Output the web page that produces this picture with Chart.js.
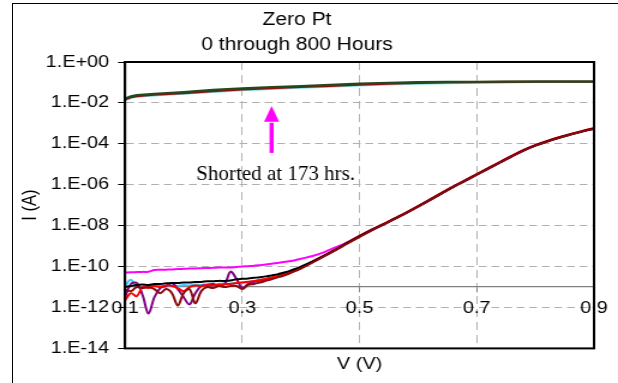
<!DOCTYPE html>
<html>
<head>
<meta charset="utf-8">
<script src="https://cdn.jsdelivr.net/npm/chart.js@4.4.1/dist/chart.umd.min.js"></script>
<style>
html,body{margin:0;padding:0;background:#fff;overflow:hidden;width:618px;height:383px;}
#wrap{position:absolute;left:0;top:0;width:515px;height:383px;transform-origin:0 0;}
#frame{position:absolute;left:12px;top:3px;width:700px;height:500px;border-left:1px solid #000;border-top:1px solid #000;pointer-events:none;}
</style>
</head>
<body>
<div id="wrap"><canvas id="c"></canvas></div>
<div id="frame"></div>
<script>
// ---------- DATA ----------
const titleLines = ['Zero Pt', '0 through 800 Hours'];
const xTitle = 'V (V)';
const yTitle = 'I (A)';
const annotationText = 'Shorted at 173 hrs.';

const xTickValues = [0.1, 0.3, 0.5, 0.7, 0.9];
const xTickLabels = ['0.1', '0.3', '0.5', '0.7', '0.9'];
const yTickValues = [1e-14, 1e-12, 1e-10, 1e-8, 1e-6, 1e-4, 1e-2, 1];
const yTickLabels = ['1.E-14', '1.E-12', '1.E-10', '1.E-08', '1.E-06', '1.E-04', '1.E-02', '1.E+00'];

// voltages for the non-shorted sweeps (V)
const lowVoltage = [
  0.10,0.11,0.12,0.13,0.14,0.15,0.16,0.17,0.18,0.19,0.20,
  0.21,0.22,0.23,0.24,0.25,0.26,0.27,0.28,0.29,0.30,
  0.31,0.32,0.33,0.34,0.35,0.36,0.37,0.38,0.39,0.40,
  0.42,0.44,0.46,0.48,0.50,0.52,0.54,0.56,0.58,0.60,
  0.62,0.64,0.66,0.68,0.70,0.72,0.74,0.76,0.78,0.80,
  0.82,0.84,0.86,0.88,0.90
];
// log10 of current (A) for each sweep
const blackLogI = [
  -11.0,-10.95,-10.9,-10.88,-10.9,-10.85,-10.85,-10.82,-10.8,-10.8,-10.78,
  -10.78,-10.75,-10.75,-10.72,-10.72,-10.7,-10.7,-10.68,-10.62,-10.6,
  -10.58,-10.55,-10.52,-10.48,-10.43,-10.38,-10.3,-10.22,-10.12,-10.0,
  -9.74,-9.46,-9.16,-8.83,-8.52,-8.22,-7.95,-7.66,-7.37,-7.06,
  -6.74,-6.42,-6.1,-5.8,-5.5,-5.2,-4.9,-4.6,-4.32,-4.08,
  -3.88,-3.7,-3.54,-3.39,-3.25
];
const cyanLogI = [
  -10.95,-10.65,-11.0,-10.98,-10.92,-10.95,-10.9,-10.97,-10.92,-10.95,-10.9,
  -10.93,-10.88,-10.9,-10.86,-10.88,-10.85,-10.83,-10.84,-10.8,-10.78,
  -10.76,-10.72,-10.67,-10.61,-10.55,-10.48,-10.4,-10.31,-10.2,-10.07,
  -9.78,-9.48,-9.17,-8.85,-8.54,-8.24,-7.96,-7.67,-7.38,-7.07,
  -6.75,-6.43,-6.11,-5.81,-5.51,-5.21,-4.91,-4.61,-4.33,-4.09,
  -3.89,-3.71,-3.55,-3.4,-3.26
];
const redLogI = [
  -11.65,-11.3,-11.45,-11.0,-11.05,-10.95,-11.0,-10.92,-10.95,-11.05,-11.2,
  -11.0,-10.92,-10.95,-10.9,-10.92,-10.88,-10.86,-10.85,-10.8,-10.78,
  -10.74,-10.7,-10.65,-10.6,-10.53,-10.46,-10.38,-10.29,-10.18,-10.05,
  -9.76,-9.45,-9.15,-8.82,-8.5,-8.2,-7.93,-7.64,-7.35,-7.04,
  -6.72,-6.4,-6.08,-5.78,-5.48,-5.18,-4.88,-4.58,-4.3,-4.06,
  -3.86,-3.68,-3.52,-3.37,-3.23
];
const purpleLogI = [
  -11.5,-10.85,-10.8,-11.4,-12.3,-11.5,-11.05,-10.95,-10.8,-11.1,-11.5,
  -11.85,-11.3,-10.95,-10.9,-10.85,-10.95,-10.85,-10.25,-10.6,-11.05,
  -10.85,-10.75,-10.68,-10.62,-10.56,-10.49,-10.41,-10.31,-10.2,-10.08,
  -9.77,-9.47,-9.17,-8.84,-8.53,-8.23,-7.95,-7.66,-7.37,-7.06,
  -6.74,-6.42,-6.1,-5.8,-5.5,-5.2,-4.9,-4.6,-4.32,-4.08,
  -3.88,-3.7,-3.54,-3.39,-3.25
];
const darkRedLogI = [
  -11.1,-11.2,-11.0,-11.05,-11.0,-11.1,-11.3,-11.1,-11.3,-11.9,-11.3,
  -11.1,-11.8,-11.2,-11.0,-11.05,-10.95,-11.0,-10.95,-10.95,-11.1,
  -10.9,-10.85,-10.78,-10.7,-10.62,-10.53,-10.45,-10.34,-10.22,-10.1,
  -9.8,-9.49,-9.19,-8.86,-8.55,-8.24,-7.96,-7.67,-7.38,-7.07,
  -6.75,-6.43,-6.11,-5.81,-5.51,-5.21,-4.91,-4.61,-4.33,-4.09,
  -3.89,-3.71,-3.55,-3.4,-3.26
];
const magentaLogI = [
  -10.3,-10.28,-10.27,-10.26,-10.25,-10.17,-10.16,-10.15,-10.14,-10.12,-10.11,
  -10.1,-10.09,-10.08,-10.07,-10.06,-10.05,-10.04,-10.04,-10.02,-10.0,
  -9.98,-9.96,-9.93,-9.9,-9.86,-9.82,-9.78,-9.74,-9.69,-9.62,
  -9.48,-9.29,-9.05,-8.8,-8.5,-8.21,-7.94,-7.65,-7.36,-7.05,
  -6.73,-6.41,-6.09,-5.79,-5.49,-5.19,-4.89,-4.59,-4.31,-4.07,
  -3.87,-3.69,-3.53,-3.38,-3.24
];

// shorted sweeps (A)
const shortVoltage = [0.10,0.11,0.12,0.15,0.20,0.25,0.30,0.35,0.40,0.45,0.50,0.55,0.60,0.65,0.70,0.75,0.80,0.85,0.90];
const shortGreenI   = [0.016,0.021,0.024,0.028,0.034,0.043,0.052,0.060,0.067,0.076,0.089,0.097,0.104,0.106,0.108,0.109,0.109,0.109,0.109];
const shortDarkRedI = [0.0148,0.0188,0.0215,0.025,0.030,0.038,0.046,0.053,0.060,0.068,0.079,0.088,0.095,0.100,0.104,0.107,0.109,0.109,0.109];
const shortCyanI    = [0.0140,0.0175,0.020,0.023,0.028,0.035,0.042,0.049,0.055,0.062,0.072,0.080,0.087,0.092,0.097,0.102,0.107,0.109,0.109];

// annotation anchors (data coordinates)
const arrowV = 0.35;
const arrowTipI = 7.1e-3;
const arrowHeadBaseI = 1.2e-3;
const arrowTailI = 3.6e-5;
const annotationV = 0.357;
const annotationI = 3.1e-6;

// ---------- RENDER ----------
const STRETCH = 1.2;
document.getElementById('wrap').style.transform = 'scaleX(' + STRETCH + ')';

Chart.defaults.font.family = '"Liberation Sans", Arial, sans-serif';
Chart.defaults.color = '#000';

function lowSeries(label, logs, color) {
  return {
    label,
    data: lowVoltage.map((v, i) => ({x: v, y: Math.pow(10, logs[i])})),
    borderColor: color, backgroundColor: color,
    borderWidth: 2, pointRadius: 0, tension: 0.35, fill: false
  };
}
function shortSeries(label, vals, color) {
  return {
    label,
    data: shortVoltage.map((v, i) => ({x: v, y: vals[i]})),
    borderColor: color, backgroundColor: color,
    borderWidth: 2.2, pointRadius: 0, tension: 0, fill: false
  };
}

const datasets = [
  shortSeries('Shorted A', shortGreenI, '#234A1C'),
  shortSeries('Shorted B', shortDarkRedI, '#8E1010'),
  shortSeries('Shorted C', shortCyanI, '#7FDDE0'),
  lowSeries('Sweep 1', darkRedLogI, '#8B0A0A'),
  lowSeries('Sweep 2', blackLogI, '#000000'),
  lowSeries('Sweep 3', redLogI, '#FF0000'),
  lowSeries('Sweep 4', purpleLogI, '#800080'),
  lowSeries('Sweep 5', cyanLogI, '#33CCFF'),
  lowSeries('Sweep 6', magentaLogI, '#FF00FF')
];

const decor = {
  id: 'decor',
  afterDatasetsDraw(chart) {
    const {ctx, chartArea: a, scales} = chart;
    ctx.save();
    ctx.strokeStyle = '#000';
    ctx.lineWidth = 2;
    ctx.strokeRect(a.left, a.top, a.right - a.left, a.bottom - a.top);

    const ax = scales.x.getPixelForValue(arrowV);
    const tipY = scales.y.getPixelForValue(arrowTipI);
    const baseY = scales.y.getPixelForValue(arrowHeadBaseI);
    const tailY = scales.y.getPixelForValue(arrowTailI);
    ctx.strokeStyle = '#FF00FF';
    ctx.fillStyle = '#FF00FF';
    ctx.lineWidth = 3.4;
    ctx.beginPath(); ctx.moveTo(ax, tailY); ctx.lineTo(ax, baseY + 1); ctx.stroke();
    ctx.beginPath();
    ctx.moveTo(ax, tipY); ctx.lineTo(ax - 6.3, baseY); ctx.lineTo(ax + 6.3, baseY);
    ctx.closePath(); ctx.fill();

    const tx = scales.x.getPixelForValue(annotationV);
    const ty = scales.y.getPixelForValue(annotationI);
    ctx.translate(tx, ty);
    ctx.scale(1 / STRETCH, 1);
    ctx.fillStyle = '#000';
    ctx.font = '21px "Liberation Serif", "Times New Roman", serif';
    ctx.textAlign = 'center';
    ctx.textBaseline = 'middle';
    ctx.fillText(annotationText, 0, 0);
    ctx.restore();
  }
};

new Chart(document.getElementById('c'), {
  type: 'line',
  data: {datasets},
  plugins: [decor],
  options: {
    responsive: true,
    maintainAspectRatio: false,
    animation: false,
    events: [],
    layout: {padding: {left: 0, right: 20, top: 0, bottom: 0}},
    plugins: {
      legend: {display: false},
      tooltip: {enabled: false},
      title: {
        display: true,
        text: titleLines,
        color: '#000',
        font: {size: 17.5, weight: 'normal', lineHeight: '25px'},
        padding: {top: 7.5, bottom: 4.5}
      }
    },
    scales: {
      x: {
        type: 'linear',
        position: {y: 1e-11},
        min: 0.1, max: 0.9,
        afterBuildTicks: s => { s.ticks = xTickValues.map(v => ({value: v})); },
        ticks: {
          callback: (v, i) => xTickLabels[i],
          font: {size: 16.5}, color: '#000', padding: 7,
          maxRotation: 0, autoSkip: false
        },
        grid: {color: '#B0B0B0', lineWidth: 1, tickColor: '#808080', tickLength: 5, drawOnChartArea: true},
        border: {display: true, color: '#808080', width: 1.3, dash: [8, 5]}
      },
      x2: {
        type: 'linear',
        position: 'bottom',
        min: 0.1, max: 0.9,
        afterBuildTicks: s => { s.ticks = []; },
        ticks: {display: false},
        grid: {display: false, drawTicks: false},
        border: {display: false},
        title: {
          display: true, text: xTitle, color: '#000',
          font: {size: 16.5}, padding: {top: 6.4, bottom: 8.4}
        }
      },
      y: {
        type: 'logarithmic',
        position: 'left',
        min: 1e-14, max: 1,
        afterBuildTicks: s => { s.ticks = yTickValues.map(v => ({value: v})); },
        afterFit: s => { s.width = 104.17; },
        ticks: {
          callback: (v, i) => yTickLabels[i],
          font: {size: 16.5}, color: '#000', padding: 7.5, autoSkip: false
        },
        grid: {color: '#B0B0B0', lineWidth: 1, tickColor: '#000', tickLength: 5.8, drawOnChartArea: true},
        border: {display: true, color: '#000', width: 2, dash: [6.5, 4]},
        title: {
          display: true, text: yTitle, color: '#000',
          font: {size: 16.5}, padding: {top: 15.4, bottom: 0}
        }
      }
    }
  }
});
</script>
</body>
</html>
